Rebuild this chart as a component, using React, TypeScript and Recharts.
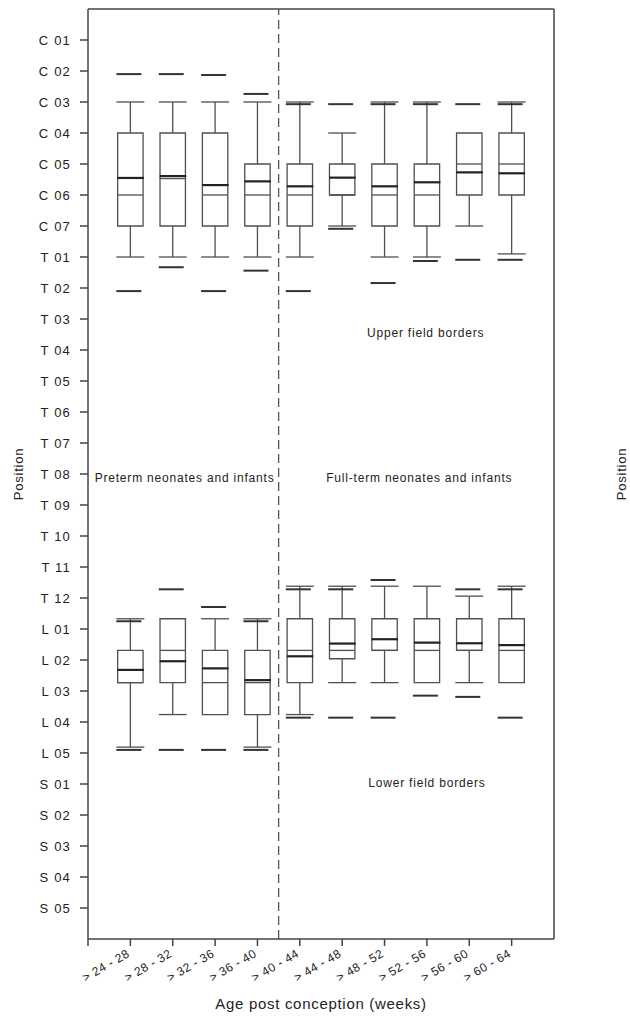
import { ComposedChart, XAxis, YAxis, Scatter, ReferenceArea, ReferenceLine, ReferenceDot, Label } from "recharts";

const positions = [
  "C 01", "C 02", "C 03", "C 04", "C 05", "C 06", "C 07",
  "T 01", "T 02", "T 03", "T 04", "T 05", "T 06", "T 07", "T 08", "T 09", "T 10", "T 11", "T 12",
  "L 01", "L 02", "L 03", "L 04", "L 05",
  "S 01", "S 02", "S 03", "S 04", "S 05",
];

const ageGroups = [
  "> 24 - 28", "> 28 - 32", "> 32 - 36", "> 36 - 40", "> 40 - 44",
  "> 44 - 48", "> 48 - 52", "> 52 - 56", "> 56 - 60", "> 60 - 64",
];

// values are position indices: 0 = C 01, 1 = C 02 ... 28 = S 05
const upperWhiskerTop = [2, 2, 2, 2, 2, 3, 2, 2, 3, 2];
const upperQ1 = [3, 3, 3, 4, 4, 4, 4, 4, 3, 3];
const upperMedian = [5, 4.47, 5, 5, 5, 5, 5, 5, 4, 4];
const upperMean = [4.45, 4.39, 4.68, 4.56, 4.72, 4.44, 4.72, 4.59, 4.27, 4.3];
const upperQ3 = [6, 6, 6, 6, 6, 5, 6, 6, 5, 5];
const upperWhiskerBottom = [7, 7, 7, 7, 7, 6, 7, 7, 6, 6.9];
const upperOutliers = [
  [1.1, 8.1], [1.1, 7.33], [1.13, 8.1], [1.74, 7.44], [2.07, 8.1],
  [2.07, 6.09], [2.07, 7.84], [2.07, 7.13], [2.07, 7.09], [2.07, 7.09],
];

const lowerWhiskerTop = [18.67, 18.67, 18.67, 18.67, 17.62, 17.62, 17.62, 17.62, 17.94, 17.62];
const lowerQ1 = [19.69, 18.67, 19.69, 19.69, 18.67, 18.67, 18.67, 18.67, 18.67, 18.67];
const lowerMedian = [20.73, 19.69, 20.73, 20.73, 19.69, 19.69, 19.69, 19.69, 19.69, 19.69];
const lowerMean = [20.32, 20.04, 20.27, 20.65, 19.88, 19.47, 19.33, 19.44, 19.46, 19.52];
const lowerQ3 = [20.73, 20.73, 21.76, 21.76, 20.73, 19.96, 19.69, 20.73, 19.69, 20.73];
const lowerWhiskerBottom = [22.81, 21.76, 21.76, 22.81, 21.76, 20.73, 20.73, 20.73, 20.73, 20.73];
const lowerOutliers = [
  [18.75, 22.9], [17.72, 22.9], [18.29, 22.9], [18.75, 22.9], [17.72, 21.86],
  [17.72, 21.86], [17.42, 21.86], [21.15], [17.72, 21.19], [17.72, 21.86],
];

const FONT = "'Liberation Sans', Arial, sans-serif";
const INK = "#222";
const BOX = "#505050";

const toPoints = (vals: number[]) => vals.map((y, i) => ({ x: i + 1, y }));
const toOutliers = (rows: number[][]) => rows.flatMap((ys, i) => ys.map((y) => ({ x: i + 1, y })));

function renderBoxes(key: string, wTop: number[], q1: number[], q3: number[], wBot: number[]) {
  const out: any[] = [];
  const ax = { xAxisId: "bottom", yAxisId: "left" };
  q1.forEach((_, i) => {
    const x = i + 1;
    out.push(
      <ReferenceArea key={`${key}-box-${i}`} {...ax} x1={x - 0.3} x2={x + 0.3} y1={q1[i]} y2={q3[i]}
        fill="#fff" fillOpacity={0} stroke={BOX} strokeWidth={1.3} />
    );
    if (wTop[i] < q1[i]) {
      out.push(
        <ReferenceLine key={`${key}-wt-${i}`} {...ax} segment={[{ x, y: wTop[i] }, { x, y: q1[i] }]} stroke={BOX} strokeWidth={1.3} />,
        <ReferenceLine key={`${key}-ct-${i}`} {...ax} segment={[{ x: x - 0.33, y: wTop[i] }, { x: x + 0.33, y: wTop[i] }]} stroke={BOX} strokeWidth={1.3} />
      );
    }
    if (wBot[i] > q3[i]) {
      out.push(
        <ReferenceLine key={`${key}-wb-${i}`} {...ax} segment={[{ x, y: q3[i] }, { x, y: wBot[i] }]} stroke={BOX} strokeWidth={1.3} />,
        <ReferenceLine key={`${key}-cb-${i}`} {...ax} segment={[{ x: x - 0.33, y: wBot[i] }, { x: x + 0.33, y: wBot[i] }]} stroke={BOX} strokeWidth={1.3} />
      );
    }
  });
  return out;
}

const MedianShape = (p: any) => (
  <line x1={p.cx - 12.7} x2={p.cx + 12.7} y1={p.cy} y2={p.cy} stroke={BOX} strokeWidth={1.3} />
);
const MeanShape = (p: any) => (
  <line x1={p.cx - 13} x2={p.cx + 13.5} y1={p.cy} y2={p.cy} stroke={INK} strokeWidth={2.2} />
);
const OutlierShape = (p: any) => (
  <line x1={p.cx - 14} x2={p.cx + 11} y1={p.cy} y2={p.cy} stroke="#333" strokeWidth={2} />
);

const XTick = (p: any) => {
  const label = p.payload.value === 0 ? "" : ageGroups[p.payload.value - 1];
  return (
    <text transform={`translate(${p.x},${p.y + 8}) rotate(-30)`} textAnchor="end" fontSize={12}
      fontFamily={FONT} fill={INK} letterSpacing={0.5}>
      {label}
    </text>
  );
};

const LeftTick = (p: any) => (
  <text x={p.x} y={p.y} dy={4.5} textAnchor="end" fontSize={13} fontFamily={FONT} fill={INK} letterSpacing={1.2}>
    {positions[p.payload.value]}
  </text>
);
const RightTick = (p: any) => (
  <text x={p.x} y={p.y} dy={4.5} textAnchor="start" fontSize={13} fontFamily={FONT} fill={INK} letterSpacing={1.2}>
    {positions[p.payload.value]}
  </text>
);

const Note = (text: string) => (p: any) => (
  <text x={p.cx} y={p.cy} dy={4} textAnchor="middle" fontSize={12} fontFamily={FONT} fill={INK} letterSpacing={0.8}>
    {text}
  </text>
);

const SideTitle = (cx: number) => (p: any) => {
  const cy = p.viewBox.y + p.viewBox.height / 2;
  return (
    <text transform={`translate(${cx},${cy}) rotate(-90)`} textAnchor="middle" dy={5} fontSize={13}
      fontFamily={FONT} fill={INK} letterSpacing={0.8}>
      Position
    </text>
  );
};

const yTicks = positions.map((_, i) => i);
const xTicks = [0, ...ageGroups.map((_, i) => i + 1)];

export default function App() {
  return (
    <div style={{ position: "absolute", left: 0, top: 0, background: "#fff" }}>
      <ComposedChart width={630} height={1017} margin={{ top: 9, right: 0, bottom: 0, left: 0 }}>
        <XAxis xAxisId="bottom" type="number" dataKey="x" domain={[0, 11]} ticks={xTicks} interval={0}
          height={78} tickSize={7} tick={<XTick />} stroke="#444" strokeWidth={1.5}>
          <Label value="Age post conception (weeks)" position="insideBottom" offset={8} fontSize={15}
            fontFamily={FONT} fill={INK} letterSpacing={0.7} />
        </XAxis>
        <YAxis yAxisId="left" type="number" dataKey="y" domain={[-1, 29]} reversed ticks={yTicks} interval={0}
          width={88} tickSize={8} tickMargin={9} tick={<LeftTick />} stroke="#444" strokeWidth={1.5}>
          <Label content={SideTitle(18)} />
        </YAxis>
        <YAxis yAxisId="right" orientation="right" type="number" domain={[-1, 29]} reversed ticks={yTicks}
          interval={0} width={76} tickSize={8} tickMargin={7} tick={<RightTick />} stroke="#444" strokeWidth={1.5}>
          <Label content={SideTitle(621)} />
        </YAxis>

        <ReferenceLine xAxisId="bottom" yAxisId="left" y={-1} stroke="#444" strokeWidth={1.5} ifOverflow="visible" />
        <ReferenceLine xAxisId="bottom" yAxisId="left" x={4.5} stroke="#555" strokeWidth={1.3} strokeDasharray="9 5" />

        {renderBoxes("up", upperWhiskerTop, upperQ1, upperQ3, upperWhiskerBottom)}
        {renderBoxes("low", lowerWhiskerTop, lowerQ1, lowerQ3, lowerWhiskerBottom)}

        <Scatter xAxisId="bottom" yAxisId="left" data={toPoints(upperMedian)} dataKey="y" shape={MedianShape} isAnimationActive={false} />
        <Scatter xAxisId="bottom" yAxisId="left" data={toPoints(lowerMedian)} dataKey="y" shape={MedianShape} isAnimationActive={false} />
        <Scatter xAxisId="bottom" yAxisId="left" data={toPoints(upperMean)} dataKey="y" shape={MeanShape} isAnimationActive={false} />
        <Scatter xAxisId="bottom" yAxisId="left" data={toPoints(lowerMean)} dataKey="y" shape={MeanShape} isAnimationActive={false} />
        <Scatter xAxisId="bottom" yAxisId="left" data={toOutliers(upperOutliers)} dataKey="y" shape={OutlierShape} isAnimationActive={false} />
        <Scatter xAxisId="bottom" yAxisId="left" data={toOutliers(lowerOutliers)} dataKey="y" shape={OutlierShape} isAnimationActive={false} />

        <ReferenceDot xAxisId="bottom" yAxisId="left" x={2.28} y={14.13} r={0} shape={Note("Preterm neonates and infants")} />
        <ReferenceDot xAxisId="bottom" yAxisId="left" x={7.82} y={14.13} r={0} shape={Note("Full-term neonates and infants")} />
        <ReferenceDot xAxisId="bottom" yAxisId="left" x={7.97} y={9.45} r={0} shape={Note("Upper field borders")} />
        <ReferenceDot xAxisId="bottom" yAxisId="left" x={8.0} y={23.97} r={0} shape={Note("Lower field borders")} />
      </ComposedChart>
    </div>
  );
}
